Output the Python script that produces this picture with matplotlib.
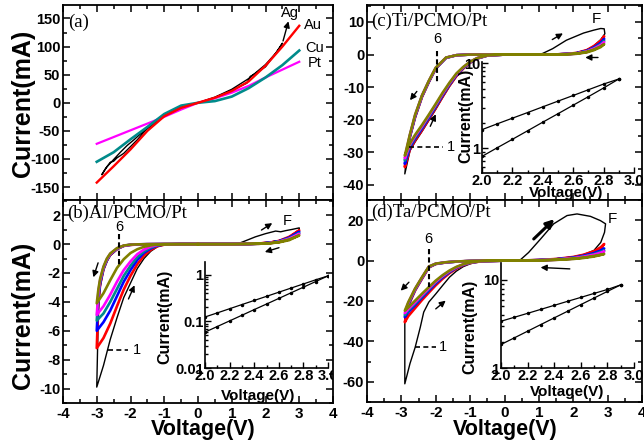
import matplotlib.pyplot as plt
from matplotlib.ticker import MultipleLocator, LogLocator, NullFormatter

plt.rcParams['font.family'] = ['Liberation Sans', 'DejaVu Sans']
SERIF = ['Liberation Serif', 'DejaVu Serif']

# colours of cycles 1..6
cyc_colors = ['#000000', '#ff0000', '#0000ff', '#008b8b', '#ff00ff', '#808000']

# ---------------- (a) electrodes ----------------
a_volt = [-3.0, -2.5, -2.0, -1.5, -1.0, -0.5, 0, 0.5, 1.0, 1.5, 2.0, 2.5, 3.0]
au_cur = [-142, -113, -83, -50, -24, -9, 0, 9, 21, 38, 66, 100, 137]
cu_cur = [-105, -88, -65, -43, -20, -5, 0, 3, 11, 26, 45, 67, 93]
pt_cur = [-73, -61, -49, -37, -25, -12, 0, 8, 18, 30, 45, 59, 73]
ag_volt = [0, 0.5, 1.0, 1.5, 2.0, 2.3, 2.5, 2.4, 2.0, 1.7, 1.55, 1.45, 1.0, 0.5, 0,
           -0.5, -1.0, -1.5, -1.7, -1.9, -2.1, -2.3, -2.5, -2.7, -2.85,
           -2.75, -2.6, -2.5, -2.4, -2.2, -2.0, -1.8, -1.5, -1.0, -0.5, 0]
ag_cur = [0, 10, 24, 43, 68, 88, 106, 96, 64, 52, 47, 35, 22, 9, 0,
          -9, -24, -46, -55, -66, -76, -88, -101, -114, -128,
          -118, -106, -104, -98, -90, -78, -66, -45, -22, -8, 0]

# ---------------- (b) Al/PCMO/Pt ----------------
b_pos_volt = [0, 0.5, 1.0, 1.5, 1.8, 2.1, 2.4, 2.7, 3.0, 2.7, 2.4, 2.1, 1.8, 1.5, 1.0, 0.5, 0]
b_neg_volt = [-0.5, -1.0, -1.5, -1.8, -2.0, -2.2, -2.4, -2.6, -2.7, -2.8, -2.9, -2.95, -3.0,
              -2.8, -2.6, -2.4, -2.2, -2.0, -1.8, -1.6, -1.4, -1.2, -1.0, -0.5, 0]
b1_pos_volt = [0, 0.5, 1.0, 1.2, 1.4, 1.7, 2.0, 2.3, 2.45, 2.6, 2.8, 3.0,
               3.0, 2.7, 2.4, 2.1, 1.8, 1.5, 1.0, 0.5, 0]
b1_pos_cur = [0, 0, 0.01, 0.04, 0.22, 0.5, 0.72, 0.9, 0.85, 0.93, 1.02, 1.12,
              0.95, 0.48, 0.21, 0.09, 0.04, 0.01, 0, 0, 0]
b_pos_cur = [
    None,
    [0, 0, 0, 0.01, 0.04, 0.09, 0.2, 0.42, 0.95, 0.5, 0.22, 0.09, 0.04, 0.01, 0, 0, 0],
    [0, 0, 0, 0.01, 0.03, 0.08, 0.18, 0.38, 0.85, 0.45, 0.2, 0.08, 0.03, 0.01, 0, 0, 0],
    [0, 0, 0, 0.01, 0.03, 0.07, 0.16, 0.34, 0.75, 0.4, 0.18, 0.07, 0.03, 0.01, 0, 0, 0],
    [0, 0, 0, 0.01, 0.03, 0.06, 0.14, 0.31, 0.7, 0.37, 0.16, 0.06, 0.02, 0.01, 0, 0, 0],
    [0, 0, 0, 0.01, 0.02, 0.05, 0.12, 0.27, 0.6, 0.32, 0.14, 0.05, 0.02, 0.01, 0, 0, 0],
]
b_neg_cur = [
    [0, 0, -0.01, -0.03, -0.06, -0.14, -0.38, -0.8, -1.2, -1.8, -3.0, -4.5, -9.9,
     -8.4, -6.6, -5.1, -3.7, -2.7, -1.7, -1.0, -0.5, -0.18, -0.05, 0, 0],
    [0, 0, -0.01, -0.03, -0.06, -0.13, -0.35, -0.75, -1.15, -1.75, -2.8, -4.0, -7.2,
     -6.5, -5.5, -4.3, -3.15, -2.2, -1.4, -0.8, -0.4, -0.15, -0.04, 0, 0],
    [0, 0, -0.01, -0.02, -0.05, -0.12, -0.33, -0.72, -1.12, -1.7, -2.7, -3.7, -6.0,
     -5.4, -4.6, -3.6, -2.6, -1.8, -1.1, -0.6, -0.3, -0.1, -0.03, 0, 0],
    [0, 0, -0.01, -0.02, -0.05, -0.12, -0.32, -0.7, -1.1, -1.65, -2.6, -3.5, -5.3,
     -4.8, -4.0, -3.1, -2.2, -1.5, -0.9, -0.5, -0.24, -0.08, -0.02, 0, 0],
    [0, 0, -0.01, -0.02, -0.05, -0.11, -0.3, -0.68, -1.05, -1.6, -2.5, -3.3, -4.9,
     -4.3, -3.5, -2.6, -1.8, -1.2, -0.7, -0.38, -0.17, -0.06, -0.02, 0, 0],
    [0, 0, -0.01, -0.02, -0.04, -0.1, -0.28, -0.65, -1.0, -1.55, -2.4, -3.1, -4.1,
     -3.4, -2.5, -1.65, -1.05, -0.62, -0.36, -0.19, -0.09, -0.03, -0.01, 0, 0],
]
b_ins_volt = [2.0, 2.1, 2.2, 2.3, 2.4, 2.5, 2.6, 2.7, 2.8, 2.9, 3.0]
b_ins_up = [0.125, 0.153, 0.188, 0.231, 0.283, 0.347, 0.426, 0.523, 0.641, 0.787, 0.955]
b_ins_lo = [0.059, 0.078, 0.103, 0.136, 0.18, 0.237, 0.313, 0.414, 0.546, 0.722, 0.955]

# ---------------- (c) Ti/PCMO/Pt ----------------
c_pos_volt = [0, 0.5, 1.0, 1.5, 1.8, 2.1, 2.4, 2.6, 2.8, 2.9, 2.8, 2.6, 2.4, 2.1, 1.8, 1.5, 1.0, 0.5, 0]
c_neg_volt = [-0.5, -1.0, -1.4, -1.7, -2.0, -2.2, -2.4, -2.6, -2.75, -2.85, -2.9,
              -2.75, -2.6, -2.4, -2.2, -2.0, -1.8, -1.6, -1.4, -1.2, -1.0, -0.8, -0.5, 0]
c1_pos_volt = [0, 0.5, 0.9, 1.1, 1.4, 1.8, 2.3, 2.6, 2.8, 2.9, 2.92,
               2.8, 2.6, 2.4, 2.1, 1.8, 1.5, 1.0, 0.5, 0]
c1_pos_cur = [0, 0, 0.05, 0.3, 1.8, 4.4, 6.6, 7.5, 8.0, 7.9, 6.4,
              4.6, 2.7, 1.4, 0.5, 0.17, 0.05, 0, 0, 0]
c_pos_cur = [
    None,
    [0, 0, 0, 0.05, 0.2, 0.5, 1.4, 2.6, 4.2, 5.6, 4.0, 2.3, 1.2, 0.4, 0.15, 0.05, 0, 0, 0],
    [0, 0, 0, 0.05, 0.18, 0.45, 1.2, 2.2, 3.6, 4.8, 3.4, 2.0, 1.0, 0.35, 0.13, 0.04, 0, 0, 0],
    [0, 0, 0, 0.04, 0.16, 0.4, 1.05, 1.95, 3.2, 4.2, 3.0, 1.75, 0.9, 0.3, 0.1, 0.03, 0, 0, 0],
    [0, 0, 0, 0.04, 0.15, 0.37, 0.95, 1.8, 2.9, 3.8, 2.7, 1.6, 0.8, 0.27, 0.1, 0.03, 0, 0, 0],
    [0, 0, 0, 0.03, 0.13, 0.32, 0.85, 1.55, 2.5, 3.2, 2.3, 1.35, 0.7, 0.24, 0.08, 0.02, 0, 0, 0],
]
c_neg_cur = [
    [0, 0, -0.2, -1.1, -4.5, -8.6, -13.2, -19.5, -25.5, -31.0, -36.6,
     -29.5, -26.8, -23.6, -20.2, -16.8, -13.2, -9.8, -6.8, -4.4, -2.6, -1.3, -0.35, 0],
    [0, 0, -0.2, -1.0, -4.3, -8.4, -13.0, -19.2, -25.2, -30.5, -34.5,
     -29.0, -26.3, -23.2, -19.8, -16.4, -12.9, -9.5, -6.6, -4.3, -2.5, -1.25, -0.33, 0],
    [0, 0, -0.2, -1.0, -4.2, -8.3, -12.8, -19.0, -25.0, -30.0, -33.5,
     -28.5, -25.8, -22.7, -19.4, -16.0, -12.5, -9.2, -6.3, -4.1, -2.4, -1.2, -0.3, 0],
    [0, 0, -0.2, -1.0, -4.2, -8.2, -12.7, -18.8, -24.8, -29.6, -32.5,
     -28.0, -25.4, -22.3, -19.0, -15.7, -12.2, -9.0, -6.1, -4.0, -2.3, -1.15, -0.3, 0],
    [0, 0, -0.2, -0.95, -4.1, -8.1, -12.6, -18.6, -24.6, -29.2, -31.8,
     -27.6, -25.0, -22.0, -18.7, -15.4, -12.0, -8.8, -6.0, -3.9, -2.25, -1.1, -0.28, 0],
    [0, 0, -0.2, -0.9, -4.0, -8.0, -12.5, -18.4, -24.4, -28.8, -31.0,
     -27.2, -24.6, -21.6, -18.4, -15.1, -11.7, -8.6, -5.8, -3.8, -2.2, -1.1, -0.27, 0],
]
c_ins_volt = [2.0, 2.1, 2.2, 2.3, 2.4, 2.5, 2.6, 2.7, 2.8, 2.9]
c_ins_up = [1.65, 1.93, 2.25, 2.62, 3.06, 3.57, 4.16, 4.86, 5.67, 6.5]
c_ins_lo = [0.8, 1.01, 1.27, 1.6, 2.02, 2.54, 3.2, 4.03, 5.1, 6.5]

# ---------------- (d) Ta/PCMO/Pt ----------------
d_pos_volt = [0, 0.5, 1.0, 1.5, 2.0, 2.3, 2.6, 2.8, 2.9, 2.8, 2.6, 2.3, 2.0, 1.5, 1.0, 0.5, 0]
d_neg_volt = [-0.5, -1.0, -1.4, -1.7, -2.0, -2.2, -2.4, -2.6, -2.8, -2.9,
              -2.8, -2.6, -2.4, -2.2, -2.0, -1.8, -1.6, -1.4, -1.2, -1.0, -0.7, 0]
d1_pos_volt = [0, 0.3, 0.47, 0.7, 1.05, 1.43, 1.82, 2.11, 2.5, 2.79, 2.94,
               2.91, 2.8, 2.6, 2.3, 2.0, 1.5, 1.0, 0.5, 0]
d1_pos_cur = [0, 0.05, 0.5, 4.0, 10.7, 18.2, 22.3, 23.1, 21.9, 19.8, 18.2,
              14.0, 9.0, 5.0, 3.0, 1.9, 0.9, 0.35, 0.05, 0]
d1_neg_volt = [-0.5, -1.0, -1.4, -1.7, -2.0, -2.2, -2.4, -2.6, -2.8, -2.9, -2.9,
               -2.75, -2.6, -2.45, -2.35, -2.2, -2.0, -1.8, -1.6, -1.4, -1.2, -1.0, -0.8, -0.5, 0]
d1_neg_cur = [0, -0.2, -0.5, -0.9, -1.7, -3.3, -8.8, -14.6, -21.0, -25.0, -61.0,
              -51.0, -43.0, -33.0, -25.5, -20.5, -16.5, -12.3, -8.2, -5.2, -3.0, -1.6, -0.7, -0.15, 0]
d_pos_cur = [
    None,
    [0, 0.05, 0.3, 0.8, 1.8, 2.9, 4.6, 6.6, 8.2, 6.0, 4.0, 2.4, 1.4, 0.6, 0.2, 0.03, 0],
    [0, 0.05, 0.25, 0.7, 1.5, 2.4, 3.7, 5.0, 6.0, 4.6, 3.2, 2.0, 1.2, 0.5, 0.18, 0.03, 0],
    [0, 0.04, 0.22, 0.6, 1.3, 2.1, 3.2, 4.3, 5.0, 4.0, 2.8, 1.8, 1.0, 0.45, 0.15, 0.02, 0],
    [0, 0.04, 0.2, 0.55, 1.2, 1.9, 2.9, 3.9, 4.5, 3.6, 2.5, 1.6, 0.95, 0.4, 0.14, 0.02, 0],
    [0, 0.03, 0.16, 0.45, 1.0, 1.5, 2.3, 2.9, 3.3, 2.8, 2.0, 1.3, 0.8, 0.35, 0.12, 0.02, 0],
]
d_neg_cur = [
    None,
    [0, -0.2, -0.5, -0.9, -1.7, -3.4, -9.0, -14.8, -22.5, -30.5,
     -27.5, -23.5, -19.5, -15.8, -12.2, -9.0, -6.2, -4.0, -2.3, -1.2, -0.4, 0],
    [0, -0.2, -0.5, -0.9, -1.6, -3.2, -8.7, -14.4, -21.8, -28.0,
     -25.5, -22.0, -18.3, -14.8, -11.3, -8.3, -5.7, -3.6, -2.1, -1.1, -0.35, 0],
    [0, -0.2, -0.5, -0.85, -1.6, -3.1, -8.5, -14.2, -21.4, -27.0,
     -24.7, -21.3, -17.7, -14.2, -10.8, -7.9, -5.4, -3.4, -2.0, -1.05, -0.33, 0],
    [0, -0.2, -0.45, -0.85, -1.5, -3.0, -8.4, -14.0, -21.0, -26.0,
     -24.0, -20.6, -17.1, -13.7, -10.4, -7.6, -5.2, -3.3, -1.9, -1.0, -0.32, 0],
    [0, -0.15, -0.45, -0.8, -1.5, -2.9, -8.2, -13.8, -20.6, -24.8,
     -23.2, -19.8, -16.4, -13.1, -9.9, -7.2, -4.9, -3.1, -1.8, -0.95, -0.3, 0],
]
d_ins_volt = [2.0, 2.1, 2.2, 2.3, 2.4, 2.5, 2.6, 2.7, 2.8, 2.9]
d_ins_up = [3.4, 3.77, 4.18, 4.64, 5.15, 5.72, 6.34, 7.04, 7.8, 8.8]
d_ins_lo = [1.85, 2.2, 2.62, 3.12, 3.71, 4.41, 5.25, 6.24, 7.42, 8.8]

W, H = 644, 447
fig = plt.figure(figsize=(W / 100, H / 100), dpi=100)


def px_axes(l, t, r, b):
    return fig.add_axes([l / W, 1 - b / H, (r - l) / W, (b - t) / H])


def style_main(ax, yticks, ylim, yminor, show_x):
    ax.set_xlim(-4, 4)
    ax.set_ylim(*ylim)
    xt = [-4, -3, -2, -1, 0, 1, 2, 3, 4]
    ax.set_xticks(xt, [str(v) for v in xt], fontweight='bold', fontsize=11)
    ax.set_yticks(yticks, [str(v) for v in yticks], fontweight='bold', fontsize=10.5)
    ax.xaxis.set_minor_locator(MultipleLocator(0.5))
    ax.yaxis.set_minor_locator(MultipleLocator(yminor))
    ax.tick_params(which='both', direction='in', top=True, right=True, width=1.1)
    ax.tick_params(which='major', length=5)
    ax.tick_params(which='minor', length=3)
    ax.tick_params(axis='y', pad=2)
    ax.tick_params(axis='x', pad=3, labelbottom=show_x)
    for s in ax.spines.values():
        s.set_linewidth(1.3)


def style_inset(ax, yticks, ylabels, ylim, xlim):
    ax.set_facecolor('none')
    ax.set_yscale('log')
    ax.set_xlim(*xlim)
    ax.set_ylim(*ylim)
    xt = [2.0, 2.2, 2.4, 2.6, 2.8, 3.0]
    ax.set_xticks(xt, [f'{v:.1f}' for v in xt], fontweight='bold', fontsize=10.5)
    ax.set_yticks(yticks, ylabels, fontweight='bold', fontsize=10.5)
    ax.xaxis.set_minor_locator(MultipleLocator(0.1))
    ax.yaxis.set_minor_locator(LogLocator(subs=(2, 3, 4, 5, 6, 7, 8, 9)))
    ax.yaxis.set_minor_formatter(NullFormatter())
    ax.tick_params(which='both', direction='in', width=1.0)
    ax.tick_params(which='major', length=4)
    ax.tick_params(which='minor', length=2)
    ax.tick_params(axis='x', pad=1)
    ax.tick_params(axis='y', pad=1)
    ax.spines['top'].set_visible(False)
    ax.spines['right'].set_visible(False)
    for s in ('left', 'bottom'):
        ax.spines[s].set_linewidth(1.2)


def arrow(ax, x0, y0, x1, y1, lw=1.0, ms=9):
    ax.annotate('', xy=(x1, y1), xytext=(x0, y0),
                arrowprops=dict(arrowstyle='-|>', color='k', lw=lw,
                                mutation_scale=ms, shrinkA=0, shrinkB=0))


def txt(ax, x, y, s, size=10.5, **kw):
    ax.text(x, y, s, fontsize=size, ha='center', va='center', **kw)


ax_a = px_axes(63, 5, 333, 200)
ax_b = px_axes(63, 200, 333, 403)
ax_c = px_axes(367, 5, 642, 200)
ax_d = px_axes(367, 200, 642, 402)

# ---- (a)
ax_a.plot(ag_volt, ag_cur, color='black', lw=1.0)
ax_a.plot(a_volt, pt_cur, color='#ff00ff', lw=1.6)
ax_a.plot(a_volt, cu_cur, color='#008b8b', lw=1.9)
ax_a.plot(a_volt, au_cur, color='#ff0000', lw=1.7)
style_main(ax_a, [-150, -100, -50, 0, 50, 100, 150], (-173, 174), 25, False)
arrow(ax_a, 2.52, 110, 2.68, 145)
txt(ax_a, 2.73, 160, 'Ag')
txt(ax_a, 3.42, 138, 'Au')
txt(ax_a, 3.45, 97, 'Cu')
txt(ax_a, 3.45, 71, 'Pt')
ax_a.text(0.02, 0.91, '(a)', transform=ax_a.transAxes, fontsize=13.5,
          family=SERIF, ha='left', va='center')

# ---- (b)
for k in range(6):
    if k == 0:
        v = b1_pos_volt + b_neg_volt
        i = b1_pos_cur + b_neg_cur[0]
    else:
        v = b_pos_volt + b_neg_volt
        i = b_pos_cur[k] + b_neg_cur[k]
    ax_b.plot(v, i, color=cyc_colors[k], lw=1.0 if k == 0 else 1.9)
style_main(ax_b, [-10, -8, -6, -4, -2, 0, 2], (-11.0, 3.05), 1, True)
arrow(ax_b, -2.96, -1.3, -3.1, -2.3)
arrow(ax_b, -2.06, -3.8, -1.88, -2.85)
arrow(ax_b, 1.88, 0.97, 2.2, 1.45)
arrow(ax_b, 2.4, -0.25, 1.98, -0.55)
txt(ax_b, 2.65, 1.6, 'F')
ax_b.plot([-2.34, -2.34], [0.7, -1.6], color='k', lw=1.5, dashes=(2.5, 1.5))
txt(ax_b, -2.32, 1.15, '6')
ax_b.plot([-2.67, -2.07], [-7.3, -7.3], color='k', lw=1.2, dashes=(3, 2))
txt(ax_b, -1.8, -7.3, '1')
ax_b.text(0.015, 0.935, '(b)Al/PCMO/Pt', transform=ax_b.transAxes, fontsize=13.5,
          family=SERIF, ha='left', va='center')

# ---- (c)
for k in range(6):
    if k == 0:
        v = c1_pos_volt + c_neg_volt
        i = c1_pos_cur + c_neg_cur[0]
    else:
        v = c_pos_volt + c_neg_volt
        i = c_pos_cur[k] + c_neg_cur[k]
    ax_c.plot(v, i, color=cyc_colors[k], lw=1.0 if k == 0 else 1.9)
style_main(ax_c, [-40, -30, -20, -10, 0, 10], (-44.6, 15.2), 5, False)
arrow(ax_c, -2.55, -11.3, -2.75, -14.0)
arrow(ax_c, -2.16, -22.0, -2.0, -18.3)
arrow(ax_c, 1.39, 4.6, 1.7, 6.5)
arrow(ax_c, 2.72, -0.9, 2.35, -0.9)
txt(ax_c, 2.66, 10.8, 'F', size=11)
ax_c.plot([-1.97, -1.97], [1.2, -8.6], color='k', lw=1.5, dashes=(2.5, 1.5))
txt(ax_c, -1.95, 4.8, '6')
ax_c.plot([-2.79, -1.8], [-28.4, -28.4], color='k', lw=1.2, dashes=(3, 2))
txt(ax_c, -1.57, -28.4, '1')
ax_c.text(0.015, 0.915, '(c)Ti/PCMO/Pt', transform=ax_c.transAxes, fontsize=13.5,
          family=SERIF, ha='left', va='center')

# ---- (d)
for k in range(6):
    if k == 0:
        v = d1_pos_volt + d1_neg_volt
        i = d1_pos_cur + d1_neg_cur
    else:
        v = d_pos_volt + d_neg_volt
        i = d_pos_cur[k] + d_neg_cur[k]
    ax_d.plot(v, i, color=cyc_colors[k], lw=1.0 if k == 0 else 1.9)
style_main(ax_d, [-60, -40, -20, 0, 20], (-70, 30), 10, True)
arrow(ax_d, -2.78, -10.7, -3.02, -14.9)
arrow(ax_d, -2.0, -23.9, -1.71, -19.8)
arrow(ax_d, 0.85, 10.7, 1.45, 20.5, lw=2.2, ms=12)
arrow(ax_d, 1.9, -4.1, 1.05, -3.4)
txt(ax_d, 3.13, 20.6, 'F', size=11)
ax_d.plot([-2.2, -2.2], [5.8, -13.2], color='k', lw=1.5, dashes=(2.5, 1.5))
txt(ax_d, -2.23, 10.8, '6')
ax_d.plot([-2.59, -2.0], [-42.6, -42.6], color='k', lw=1.2, dashes=(3, 2))
txt(ax_d, -1.78, -42.6, '1')
ax_d.text(0.015, 0.937, '(d)Ta/PCMO/Pt', transform=ax_d.transAxes, fontsize=13.5,
          family=SERIF, ha='left', va='center')

# ---- insets
in_b = px_axes(205, 262, 328, 368)
in_b.plot(b_ins_volt, b_ins_up, color='k', lw=0.9, marker='.', ms=3)
in_b.plot(b_ins_volt, b_ins_lo, color='k', lw=0.9, marker='.', ms=3)
style_inset(in_b, [0.01, 0.1, 1], ['0.01', '0.1', '1'], (0.01, 1.9), (2.0, 3.0))
for lbl in in_b.get_xticklabels():
    lbl.set_clip_on(True)
    lbl.set_clip_box(ax_b.bbox)

in_c = px_axes(482, 62, 634, 173)
in_c.plot(c_ins_volt, c_ins_up, color='k', lw=0.9, marker='.', ms=3)
in_c.plot(c_ins_volt, c_ins_lo, color='k', lw=0.9, marker='.', ms=3)
style_inset(in_c, [1, 10], ['1', '10'], (0.51, 10.3), (2.0, 3.0))

in_d = px_axes(501, 263, 634, 368)
in_d.plot(d_ins_volt, d_ins_up, color='k', lw=0.9, marker='.', ms=3)
in_d.plot(d_ins_volt, d_ins_lo, color='k', lw=0.9, marker='.', ms=3)
style_inset(in_d, [1, 10], ['1', '10'], (1.0, 15.6), (2.0, 3.0))

# inset axis labels
bold = dict(fontweight='bold', ha='center', va='center')
fig.text(165 / W, 1 - 317 / H, 'Current(mA)', rotation=90, fontsize=11.5, **bold)
fig.text(258 / W, 1 - 396 / H, 'Voltage(V)', fontsize=11, **bold)
fig.text(466 / W, 1 - 116 / H, 'Current(mA)', rotation=90, fontsize=11.5, **bold)
fig.text(566 / W, 1 - 193 / H, 'Voltage(V)', fontsize=11, **bold)
fig.text(470 / W, 1 - 327 / H, 'Current(mA)', rotation=90, fontsize=11.5, **bold)
fig.text(567 / W, 1 - 392 / H, 'Voltage(V)', fontsize=11, **bold)

# main axis labels
fig.text(23 / W, 1 - 103 / H, 'Current(mA)', rotation=90, fontsize=18, **bold)
fig.text(23 / W, 1 - 315 / H, 'Current(mA)', rotation=90, fontsize=18, **bold)
fig.text(203 / W, 1 - 430 / H, 'Voltage(V)', fontsize=15.5, **bold)
fig.text(505 / W, 1 - 430 / H, 'Voltage(V)', fontsize=15.5, **bold)

fig.savefig('out.png', dpi=100)
